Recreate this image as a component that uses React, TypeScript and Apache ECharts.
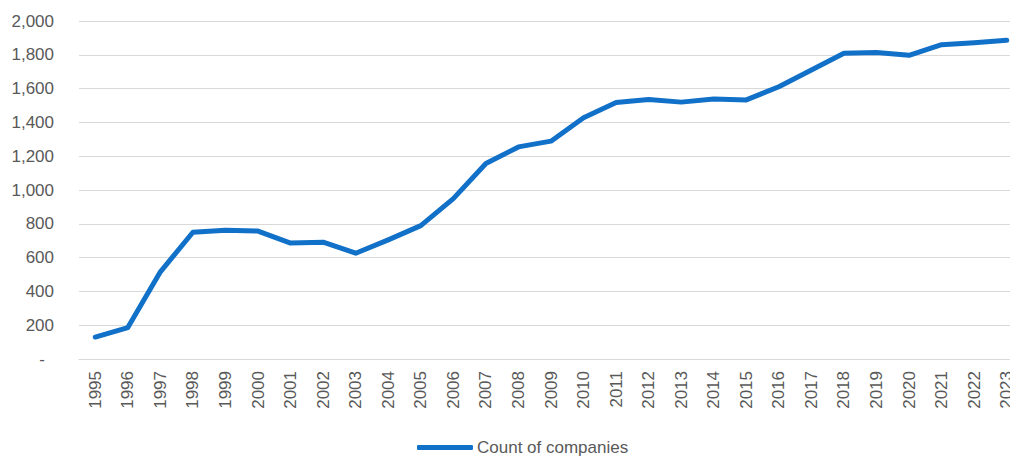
import React, { useEffect, useRef } from "react";
import * as echarts from "echarts";

const years: string[] = [
  "1995", "1996", "1997", "1998", "1999", "2000", "2001", "2002", "2003", "2004",
  "2005", "2006", "2007", "2008", "2009", "2010", "2011", "2012", "2013", "2014",
  "2015", "2016", "2017", "2018", "2019", "2020", "2021", "2022", "2023",
];

const companyCounts: number[] = [
  130, 186, 516, 750, 762, 757, 686, 691, 626, 705,
  789, 949, 1157, 1255, 1289, 1427, 1518, 1536, 1520, 1538,
  1533, 1611, 1710, 1809, 1813, 1797, 1860, 1872, 1886,
];

const seriesName = "Count of companies";

const FONT = "'Liberation Sans', Arial, sans-serif";
const TEXT_COLOR = "#595959";
const GRID_COLOR = "#d9d9d9";
const LINE_COLOR = "#1170c8";

export default function App() {
  const ref = useRef<HTMLDivElement>(null);

  useEffect(() => {
    if (!ref.current) return;
    const chart = echarts.init(ref.current, undefined, { renderer: "svg" });
    chart.setOption({
      animation: false,
      backgroundColor: "#ffffff",
      grid: {
        left: 79,
        top: 21,
        width: 944,
        height: 338,
        containLabel: false,
        outerBoundsMode: "none",
      },
      legend: {
        data: [{ name: seriesName, icon: "roundRect" }],
        left: 417,
        top: 439,
        padding: 0,
        itemWidth: 56,
        itemHeight: 5,
        itemStyle: { color: LINE_COLOR },
        textStyle: { fontFamily: FONT, fontSize: 17, color: TEXT_COLOR, padding: [0, 0, 0, -1] },
      },
      xAxis: {
        type: "category",
        data: years,
        boundaryGap: true,
        axisLine: { show: true, lineStyle: { color: GRID_COLOR, width: 1 } },
        axisTick: { show: false },
        axisLabel: {
          rotate: 90,
          interval: 0,
          margin: 12,
          fontFamily: FONT,
          fontSize: 17,
          color: TEXT_COLOR,
        },
      },
      yAxis: {
        type: "value",
        min: 0,
        max: 2000,
        interval: 200,
        axisLine: { show: false },
        axisTick: { show: false },
        splitLine: { show: true, lineStyle: { color: GRID_COLOR, width: 1 } },
        axisLabel: {
          margin: 25,
          fontFamily: FONT,
          fontSize: 17,
          color: TEXT_COLOR,
          formatter: (v: number) =>
            v === 0 ? "{d|-}" : v.toLocaleString("en-US"),
          rich: {
            d: {
              fontFamily: FONT,
              fontSize: 17,
              color: TEXT_COLOR,
              padding: [0, 9, 0, 0],
            },
          },
        },
      },
      series: [
        {
          name: seriesName,
          type: "line",
          data: companyCounts,
          symbol: "none",
          lineStyle: { color: LINE_COLOR, width: 5, cap: "round", join: "round" },
          itemStyle: { color: LINE_COLOR },
        },
      ],
    });
    return () => chart.dispose();
  }, []);

  return (
    <div
      ref={ref}
      style={{ position: "absolute", left: 0, top: 0, width: 1010, height: 458 }}
    />
  );
}
